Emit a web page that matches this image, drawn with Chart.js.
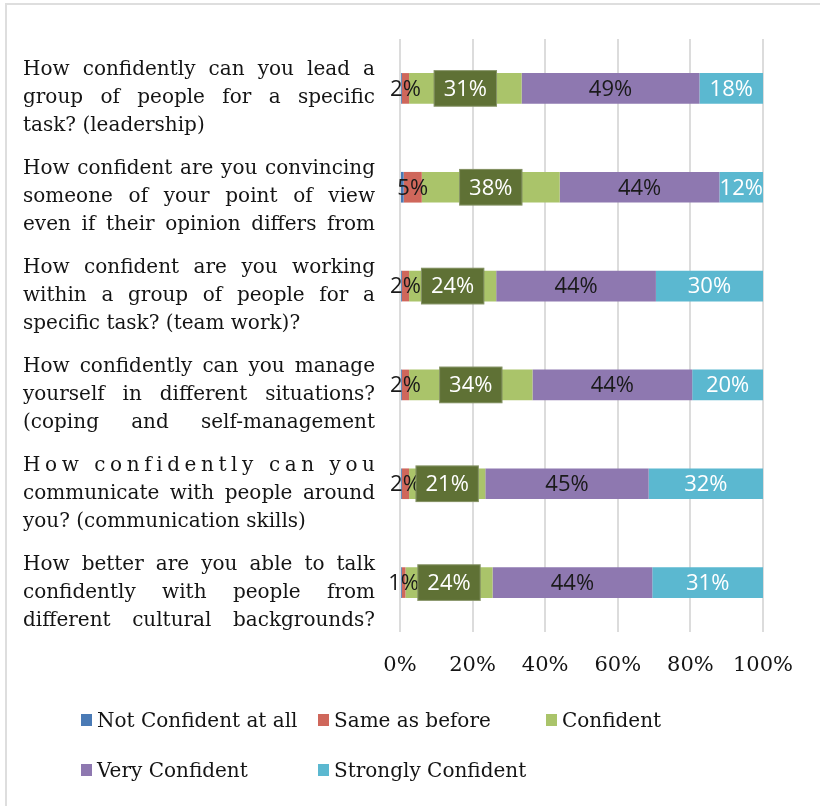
<!DOCTYPE html>
<html>
<head>
<meta charset="utf-8">
<title>Confidence survey</title>
<script src="https://cdn.jsdelivr.net/npm/chart.js@4.4.1/dist/chart.umd.min.js"></script>
<style>
  html, body { margin: 0; padding: 0; background: #fff; overflow: hidden; }
  #frame {
    position: absolute; left: 5px; top: 3px; width: 813px; height: 801px;
    border-left: 2px solid #dedede; border-top: 2px solid #dedede;
  }
  #chart { position: absolute; left: 0; top: 0; }
</style>
</head>
<body>
<div id="frame"></div>
<canvas id="chart" width="820" height="806"></canvas>
<script>
// preguntas (una línea por renglón) y series
const categories = [
  ['How confidently can you lead a', 'group of people for a specific', 'task? (leadership)'],
  ['How confident are you convincing', 'someone of your point of view', 'even if their opinion differs from'],
  ['How confident are you working', 'within a group of people for a', 'specific task? (team work)?'],
  ['How confidently can you manage', 'yourself in different situations?', '(coping and self-management'],
  ['How confidently can you', 'communicate with people around', 'you? (communication skills)'],
  ['How better are you able to talk', 'confidently with people from', 'different cultural backgrounds?']
];
const seriesNames = ['Not Confident at all', 'Same as before', 'Confident', 'Very Confident', 'Strongly Confident'];
const notConfident = [0.5, 1, 0.5, 0.5, 0.5, 0.5];
const sameAsBefore = [2, 5, 2, 2, 2, 1];
const confident = [31, 38, 24, 34, 21, 24];
const veryConfident = [49, 44, 44, 44, 45, 44];
const stronglyConfident = [18, 12, 30, 20, 32, 31];
const xTicks = [0, 20, 40, 60, 80, 100];

// estilo
const seriesColors = ['#4a7ab5', '#cf675b', '#aac46a', '#8e78b0', '#5bb8d0'];
const labelColors = [null, '#1a1a1a', '#ffffff', '#1a1a1a', '#ffffff'];
const lineModes = [
  ['justify', 'justify', 'left'],
  ['justify', 'justify', 'justify'],
  ['justify', 'justify', 'left'],
  ['justify', 'justify', 'justify'],
  ['spread', 'justify', 'left'],
  ['justify', 'justify', 'justify']
];
const lineOffsets = [-13, 15, 43];
const serif = '"DejaVu Serif", serif';

// dibuja una línea justificada (por palabras o por letras)
function drawLine(ctx, text, x, width, y, mode) {
  ctx.textAlign = 'left';
  const natural = ctx.measureText(text).width;
  if (natural >= width) {
    ctx.save();
    ctx.translate(x, y);
    ctx.scale(width / natural, 1);
    ctx.fillText(text, 0, 0);
    ctx.restore();
    return;
  }
  if (mode === 'left') {
    ctx.fillText(text, x, y);
    return;
  }
  if (mode === 'spread') {
    const chars = [...text];
    const charsW = chars.reduce((s, c) => s + ctx.measureText(c).width, 0);
    const gap = (width - charsW) / (chars.length - 1);
    let cx = x;
    chars.forEach(c => { ctx.fillText(c, cx, y); cx += ctx.measureText(c).width + gap; });
    return;
  }
  const words = text.split(' ');
  const wordsW = words.reduce((s, w) => s + ctx.measureText(w).width, 0);
  const gap = (width - wordsW) / (words.length - 1);
  let cx = x;
  words.forEach(w => { ctx.fillText(w, cx, y); cx += ctx.measureText(w).width + gap; });
}

// textos de las preguntas a la izquierda
const questionLabels = {
  id: 'questionLabels',
  beforeDatasetsDraw(chart) {
    const ctx = chart.ctx;
    const yScale = chart.scales.y;
    const left = 23, right = 375;
    ctx.save();
    ctx.font = '20px ' + serif;
    ctx.fillStyle = '#141414';
    ctx.textBaseline = 'alphabetic';
    categories.forEach((lines, i) => {
      const yc = yScale.getPixelForValue(i);
      lines.forEach((line, j) => {
        drawLine(ctx, line, left, right - left, yc + lineOffsets[j], lineModes[i][j]);
      });
    });
    ctx.restore();
  }
};

// etiquetas de porcentaje sobre las barras
const valueLabels = {
  id: 'valueLabels',
  afterDatasetsDraw(chart) {
    const ctx = chart.ctx;
    const area = chart.chartArea;
    ctx.save();
    ctx.font = '22px "Open Sans", sans-serif';
    ctx.textBaseline = 'middle';
    ctx.textAlign = 'center';
    [1, 3, 4, 2].forEach(di => {
      const ds = chart.data.datasets[di];
      chart.getDatasetMeta(di).data.forEach((bar, i) => {
        const text = ds.data[i] + '%';
        const p = bar.getProps(['x', 'base', 'y', 'height'], true);
        const cx = (Math.min(p.x, area.right) + p.base) / 2;
        if (di === 2) {
          const bw = ctx.measureText(text).width + 20;
          const bh = p.height + 6;
          ctx.fillStyle = '#5f7135';
          ctx.fillRect(cx - bw / 2, p.y - bh / 2, bw, bh);
          ctx.strokeStyle = 'rgba(255,255,255,0.25)';
          ctx.lineWidth = 1;
          ctx.strokeRect(cx - bw / 2 + 0.5, p.y - bh / 2 + 0.5, bw - 1, bh - 1);
        }
        ctx.fillStyle = labelColors[di];
        ctx.fillText(text, cx, p.y + 1);
      });
    });
    ctx.restore();
  }
};

// leyenda en dos filas
const legendSlots = [[81, 722], [318, 722], [546, 722], [81, 772], [318, 772]];
const gridLegend = {
  id: 'gridLegend',
  afterDraw(chart) {
    const ctx = chart.ctx;
    ctx.save();
    ctx.font = '20px ' + serif;
    ctx.textBaseline = 'middle';
    ctx.textAlign = 'left';
    chart.data.datasets.forEach((ds, i) => {
      const [sx, sy] = legendSlots[i];
      ctx.fillStyle = ds.backgroundColor;
      ctx.fillRect(sx, sy - 8, 11, 12);
      ctx.fillStyle = '#141414';
      ctx.fillText(ds.label, sx + 16, sy);
    });
    ctx.restore();
  }
};

const seriesData = [notConfident, sameAsBefore, confident, veryConfident, stronglyConfident];

const ctx = document.getElementById('chart').getContext('2d');
const chart = new Chart(ctx, {
  type: 'bar',
  data: {
    labels: categories.map(lines => lines.join(' ')),
    datasets: seriesNames.map((name, i) => ({
      label: name,
      data: seriesData[i],
      backgroundColor: seriesColors[i],
      borderWidth: 0,
      barPercentage: 0.31,
      categoryPercentage: 1
    }))
  },
  options: {
    indexAxis: 'y',
    responsive: false,
    animation: false,
    devicePixelRatio: 1,
    layout: { padding: { left: 400, right: 57, top: 39, bottom: 134 } },
    plugins: {
      legend: { display: false },
      tooltip: { enabled: false }
    },
    scales: {
      x: {
        stacked: true,
        min: 0,
        max: 100,
        afterBuildTicks: scale => { scale.ticks = xTicks.map(v => ({ value: v })); },
        afterFit: scale => { scale.height = 40; },
        ticks: {
          callback: v => v + '%',
          font: { family: 'DejaVu Serif', size: 21 },
          color: '#141414',
          padding: 21,
          maxRotation: 0
        },
        grid: { color: '#dcdcdc', lineWidth: 2, drawTicks: false },
        border: { display: false }
      },
      y: {
        stacked: true,
        afterFit: scale => { scale.width = 0; },
        ticks: { display: false },
        grid: { display: false },
        border: { display: false }
      }
    }
  },
  plugins: [questionLabels, valueLabels, gridLegend]
});
</script>
</body>
</html>
